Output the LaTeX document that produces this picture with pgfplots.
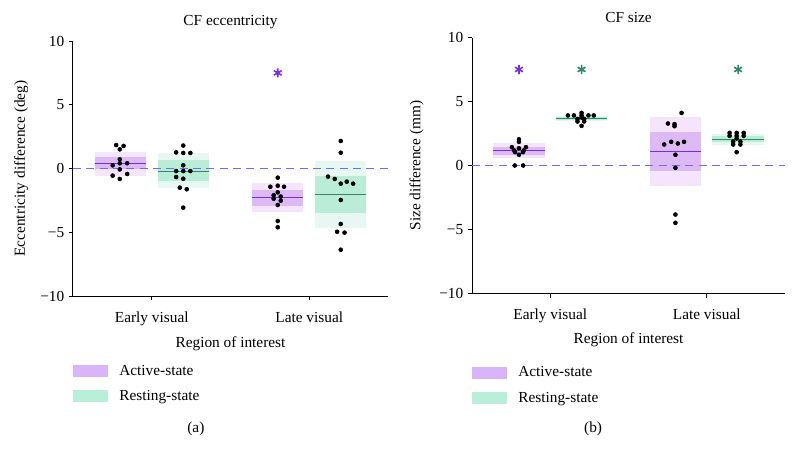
\documentclass[border=0pt]{standalone}
\usepackage{pgfplots}
\pgfplotsset{compat=1.18}
\usepackage{fontspec}
\setmainfont{Liberation Serif}
\definecolor{aline}{RGB}{123,45,220}
\definecolor{aout}{RGB}{244,228,252}
\definecolor{ain}{RGB}{221,186,246}
\definecolor{aleg}{RGB}{216,180,248}
\definecolor{rline}{RGB}{48,135,100}
\definecolor{rout}{RGB}{230,248,241}
\definecolor{rin}{RGB}{186,236,215}
\definecolor{rleg}{RGB}{185,238,217}
\definecolor{zline}{RGB}{110,110,240}
\newcommand{\fs}{\fontsize{11.5}{13.5}\selectfont}
\pgfplotsset{
  roi/.style={
    scale only axis,
    axis lines*=left,
    xmin=-0.5, xmax=1.5, ymin=-10, ymax=10,
    xtick={0,1}, xticklabels={Early visual, Late visual},
    ytick={-10,-5,0,5,10}, yticklabels={−10,−5,0,5,10},
    tick align=outside,
    major tick length=3pt,
    tick style={black, line width=0.75pt},
    axis line style={black, line width=0.75pt},
    every tick label/.append style={font=\fs},
    xticklabel style={yshift=-5pt},
    label style={font=\fs},
    title style={font=\fs, anchor=base},
    xlabel={Region of interest},
    ylabel style={anchor=center},
    xlabel style={anchor=base},
    clip=false,
    legend style={draw=none, fill=none, font=\fs, anchor=north west,
      inner sep=0pt, row sep=9.8pt, nodes={inner sep=0pt},
      legend cell align=left,
      /tikz/every odd column/.append style={column sep=8.3pt}},
    legend image code/.code={\fill[#1, draw=none] (0pt,-4.5pt) rectangle (26.25pt,4.5pt);},
  },
  dots/.style={only marks, mark=*, mark size=1.5pt, black, forget plot},
  box/.style={draw=none, forget plot},
  mean/.style={line width=0.8pt, forget plot},
  star/.style={only marks, mark=asterisk, mark size=3.4pt, line width=1.2pt, forget plot},
  zero/.style={draw=zline, dash pattern=on 6pt off 4pt, line width=0.85pt, forget plot},
}
\begin{document}
\begin{tikzpicture}
\useasboundingbox (0,0) rectangle (597pt,345.75pt);
% ---------------- (a) ----------------
\begin{axis}[roi, at={(54.75pt,123.75pt)}, anchor=south west,
  width=236.25pt, height=191.25pt,
  title={CF eccentricity},
  title style={at={(axis description cs:0.5,1.028)}},
  ylabel={Eccentricity difference (deg)},
  ylabel style={at={(axis description cs:-0.165,0.5)}},
  xlabel style={at={(axis description cs:0.5,-0.2)}},
  legend style={at={(axis description cs:0,-0.27)}},
]
% boxes
\addplot[box, fill=aout] coordinates {(-0.363,-0.59) (-0.037,-0.59) (-0.037,1.32) (-0.363,1.32)};
\addplot[box, fill=ain] coordinates {(-0.363,-0.04) (-0.037,-0.04) (-0.037,0.88) (-0.363,0.88)};
\addplot[mean, draw=aline] coordinates {(-0.363,0.41) (-0.037,0.41)};
\addplot[box, fill=rout] coordinates {(0.037,-1.55) (0.363,-1.55) (0.363,1.24) (0.037,1.24)};
\addplot[box, fill=rin] coordinates {(0.037,-0.98) (0.363,-0.98) (0.363,0.67) (0.037,0.67)};
\addplot[mean, draw=rline] coordinates {(0.037,-0.2) (0.363,-0.2)};
\addplot[box, fill=aout] coordinates {(0.637,-3.39) (0.963,-3.39) (0.963,-1.16) (0.637,-1.16)};
\addplot[box, fill=ain] coordinates {(0.637,-2.92) (0.963,-2.92) (0.963,-1.69) (0.637,-1.69)};
\addplot[mean, draw=aline] coordinates {(0.637,-2.31) (0.963,-2.31)};
\addplot[box, fill=rout] coordinates {(1.037,-4.64) (1.363,-4.64) (1.363,0.59) (1.037,0.59)};
\addplot[box, fill=rin] coordinates {(1.037,-3.52) (1.363,-3.52) (1.363,-0.56) (1.037,-0.56)};
\addplot[mean, draw=rline] coordinates {(1.037,-2.03) (1.363,-2.03)};
% zero line
\addplot[zero] coordinates {(-0.5,0) (1.5,0)};
% dots
\addplot[dots] table {
x y
-0.226 1.84
-0.179 1.77
-0.203 1.50
-0.203 0.72
-0.203 0.41
-0.156 0.41
-0.248 0.25
-0.203 -0.07
-0.156 -0.43
-0.248 -0.56
-0.203 -0.82
};
\addplot[dots] table {
x y
0.200 1.80
0.155 1.26
0.200 1.22
0.245 1.22
0.200 0.25
0.155 -0.20
0.200 -0.20
0.245 -0.20
0.155 -0.67
0.200 -0.80
0.178 -1.50
0.222 -1.63
0.200 -3.07
};
\addplot[dots] table {
x y
0.800 -0.72
0.753 -1.43
0.800 -1.35
0.840 -1.43
0.800 -1.87
0.774 -2.10
0.819 -2.20
0.774 -2.37
0.819 -2.52
0.800 -2.86
0.800 -4.12
0.800 -4.61
};
\addplot[dots] table {
x y
1.200 2.16
1.200 1.24
1.119 -0.64
1.162 -0.82
1.200 -1.19
1.238 -1.03
1.279 -1.19
1.200 -2.47
1.200 -4.35
1.177 -4.96
1.224 -5.03
1.200 -6.37
};
\addplot[star, aline] coordinates {(0.8,7.5)};
\addlegendimage{fill=aleg, draw=none}
\addlegendentry{Active-state}
\addlegendimage{fill=rleg, draw=none}
\addlegendentry{Resting-state}
\node[font=\fs, anchor=center] at (axis description cs:0.39,-0.52) {(a)};
\end{axis}
% ---------------- (b) ----------------
\begin{axis}[roi, at={(354pt,125.625pt)}, anchor=south west,
  width=234.75pt, height=192pt,
  title={CF size},
  title style={at={(axis description cs:0.5,1.027)}},
  ylabel={Size difference (mm)},
  ylabel style={at={(axis description cs:-0.177,0.5)}},
  xlabel style={at={(axis description cs:0.5,-0.196)}},
  legend style={at={(axis description cs:0,-0.285)}},
]
\addplot[box, fill=aout] coordinates {(-0.364,0.60) (-0.036,0.60) (-0.036,1.72) (-0.364,1.72)};
\addplot[box, fill=ain] coordinates {(-0.364,0.84) (-0.036,0.84) (-0.036,1.48) (-0.364,1.48)};
\addplot[mean, draw=aline] coordinates {(-0.364,1.17) (-0.036,1.17)};
\addplot[box, fill=rout] coordinates {(0.036,3.46) (0.364,3.46) (0.364,3.88) (0.036,3.88)};
\addplot[box, fill=rin] coordinates {(0.036,3.58) (0.364,3.58) (0.364,3.76) (0.036,3.76)};
\addplot[mean, draw=rline] coordinates {(0.036,3.67) (0.364,3.67)};
\addplot[box, fill=aout] coordinates {(0.636,-1.59) (0.964,-1.59) (0.964,3.78) (0.636,3.78)};
\addplot[box, fill=ain] coordinates {(0.636,-0.44) (0.964,-0.44) (0.964,2.63) (0.636,2.63)};
\addplot[mean, draw=aline] coordinates {(0.636,1.12) (0.964,1.12)};
\addplot[box, fill=rout] coordinates {(1.036,1.64) (1.364,1.64) (1.364,2.48) (1.036,2.48)};
\addplot[box, fill=rin] coordinates {(1.036,1.83) (1.364,1.83) (1.364,2.30) (1.036,2.30)};
\addplot[mean, draw=rline] coordinates {(1.036,2.06) (1.364,2.06)};
\addplot[zero] coordinates {(-0.5,0) (1.5,0)};
\addplot[dots] table {
x y
-0.200 2.05
-0.200 1.85
-0.245 1.43
-0.155 1.43
-0.200 1.35
-0.230 1.17
-0.170 1.17
-0.225 1.04
-0.175 1.04
-0.200 0.84
-0.227 0.00
-0.173 0.00
};
\addplot[dots] table {
x y
0.200 4.11
0.113 3.91
0.151 3.91
0.200 3.91
0.244 3.91
0.278 3.91
0.200 3.75
0.174 3.64
0.217 3.64
0.174 3.44
0.217 3.44
0.200 3.10
};
\addplot[dots] table {
x y
0.839 4.11
0.752 3.28
0.794 3.23
0.794 3.07
0.728 1.64
0.773 1.85
0.815 1.72
0.855 1.85
0.800 0.84
0.800 -0.18
0.800 -3.83
0.800 -4.48
};
\addplot[dots] table {
x y
1.146 2.55
1.191 2.55
1.236 2.55
1.146 2.32
1.191 2.32
1.236 2.32
1.191 2.11
1.169 1.87
1.215 1.87
1.169 1.64
1.215 1.64
1.191 1.04
};
\addplot[star, aline] coordinates {(-0.2,7.5)};
\addplot[star, rline] coordinates {(0.2,7.5)};
\addplot[star, rline] coordinates {(1.2,7.5)};
\addlegendimage{fill=aleg, draw=none}
\addlegendentry{Active-state}
\addlegendimage{fill=rleg, draw=none}
\addlegendentry{Resting-state}
\node[font=\fs, anchor=center] at (axis description cs:0.387,-0.527) {(b)};
\end{axis}
\end{tikzpicture}
\end{document}
